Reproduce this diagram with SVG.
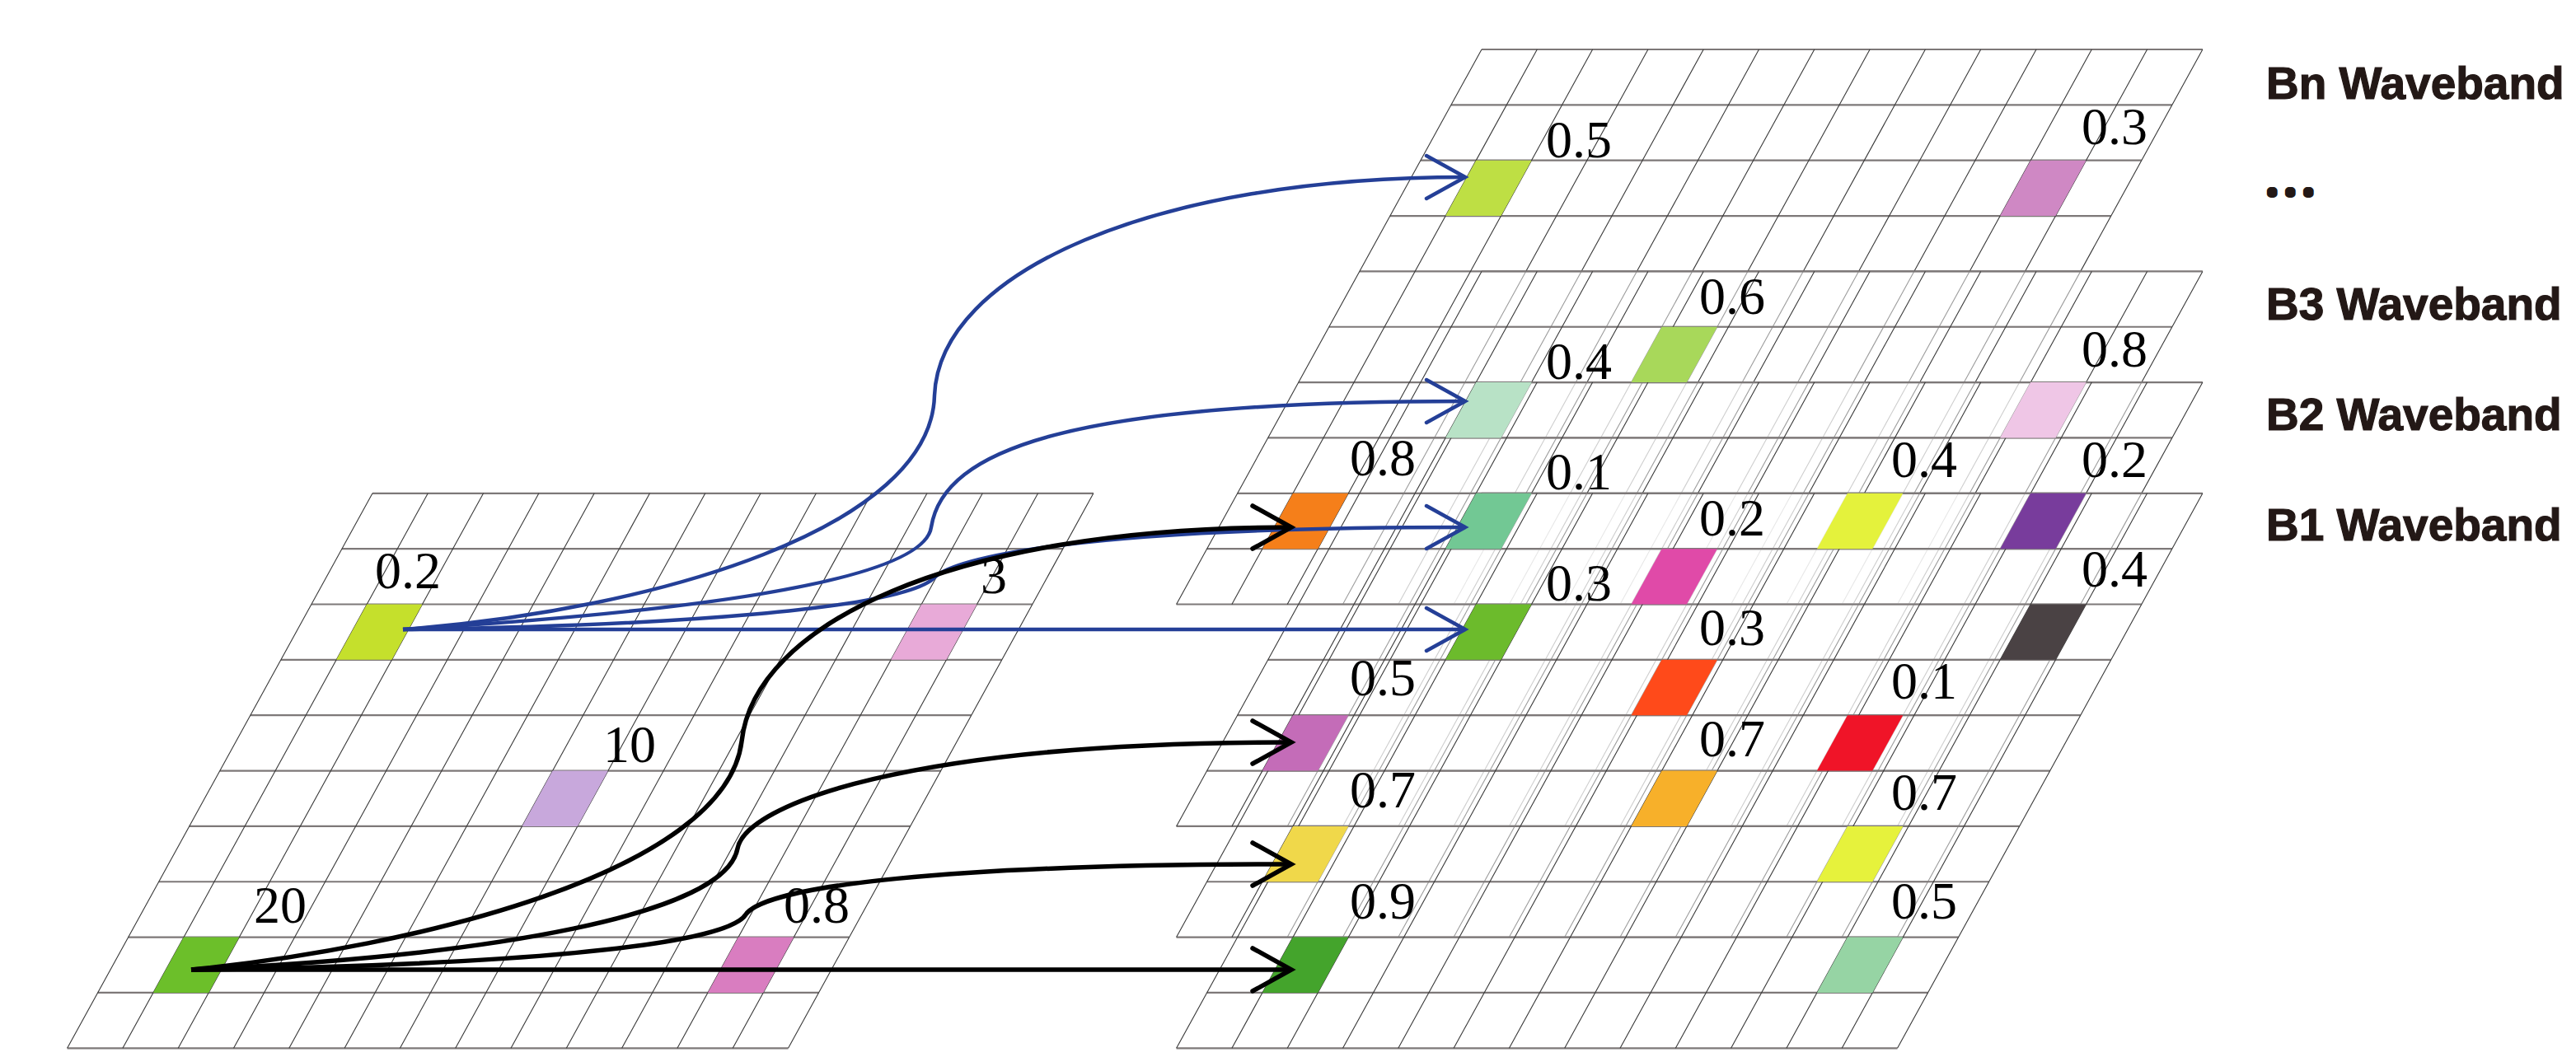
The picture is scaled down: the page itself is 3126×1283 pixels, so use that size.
<svg xmlns="http://www.w3.org/2000/svg" xmlns:xlink="http://www.w3.org/1999/xlink" width="3126" height="1283" viewBox="0 0 3126 1283">
<style>
.gh{fill:none;stroke:#7d7878;stroke-width:2.2}
.gv{fill:none;stroke:#3a3a3a;stroke-width:1.1}
.gf{fill:#fff;fill-opacity:0.5;stroke:none}
.lbl{font-family:"Liberation Serif","Times New Roman",serif;font-size:64px;fill:#000}
.band{font-family:"Liberation Sans",Arial,sans-serif;font-weight:700;font-size:55px;fill:#231816;stroke:#231816;stroke-width:1.2}
.dots{font-family:"Liberation Sans",Arial,sans-serif;font-weight:700;font-size:20px;letter-spacing:16.4px;fill:#231816;stroke:#231816;stroke-width:10;stroke-linejoin:round}
.blue{fill:none;stroke:#243f97;stroke-width:4.5;stroke-linecap:butt}
.black{fill:none;stroke:#000;stroke-width:5.5;stroke-linecap:butt}
</style>
<defs>
<path id="gh" d="M0,0h874.9M-37.04,67.35h874.9M-74.08,134.7h874.9M-111.12,202.05h874.9M-148.16,269.4h874.9M-185.2,336.75h874.9M-222.24,404.1h874.9M-259.28,471.45h874.9M-296.32,538.8h874.9M-333.36,606.15h874.9M-370.4,673.5h874.9"/>
<path id="gv" d="M0,0l-370.4,673.5M67.3,0l-370.4,673.5M134.6,0l-370.4,673.5M201.9,0l-370.4,673.5M269.2,0l-370.4,673.5M336.5,0l-370.4,673.5M403.8,0l-370.4,673.5M471.1,0l-370.4,673.5M538.4,0l-370.4,673.5M605.7,0l-370.4,673.5M673,0l-370.4,673.5M740.3,0l-370.4,673.5M807.6,0l-370.4,673.5M874.9,0l-370.4,673.5"/>
<path id="gf" d="M0,0L874.9,0L504.5,673.5L-370.4,673.5Z"/>
<path id="cell" d="M0,0L67.3,0L30.26,67.35L-37.04,67.35Z"/>
<marker id="ahBlue" markerUnits="userSpaceOnUse" markerWidth="60" markerHeight="60" refX="50" refY="30" orient="auto" overflow="visible">
<path d="M3,4L50,30L3,56" fill="none" stroke="#243f97" stroke-width="4.5" stroke-linecap="round"/>
</marker>
<marker id="ahBlack" markerUnits="userSpaceOnUse" markerWidth="60" markerHeight="60" refX="50" refY="30" orient="auto" overflow="visible">
<path d="M3,4L50,30L3,56" fill="none" stroke="#000" stroke-width="5.5" stroke-linecap="round"/>
</marker>
</defs>
<rect width="3126" height="1283" fill="#fff"/>

<g id="source-grid">
<use href="#gf" class="gf" x="452" y="598.8"/>
<use href="#gh" class="gh" x="452" y="598.8"/>
<use href="#gv" class="gv" x="452" y="598.8"/>
</g>

<g id="band-Bn-grid">
<use href="#gf" class="gf" x="1798" y="60"/>
<use href="#gh" class="gh" x="1798" y="60"/>
<use href="#gv" class="gv" x="1798" y="60"/>
</g>
<g id="band-B3-grid">
<use href="#gf" class="gf" x="1798" y="329.4"/>
<use href="#gh" class="gh" x="1798" y="329.4"/>
<use href="#gv" class="gv" x="1798" y="329.4"/>
</g>
<g id="band-B2-grid">
<use href="#gf" class="gf" x="1798" y="464.1"/>
<use href="#gh" class="gh" x="1798" y="464.1"/>
<use href="#gv" class="gv" x="1798" y="464.1"/>
</g>
<g id="band-B1-grid">
<use href="#gf" class="gf" x="1798" y="598.8"/>
<use href="#gh" class="gh" x="1798" y="598.8"/>
<use href="#gv" class="gv" x="1798" y="598.8"/>
</g>

<g id="source-pixels">
<use href="#cell" x="445.22" y="733.5" fill="#c5e02c"/>
<use href="#cell" x="1118.22" y="733.5" fill="#e8aad8"/>
<use href="#cell" x="670.6" y="935.55" fill="#c8a8dc"/>
<use href="#cell" x="222.98" y="1137.6" fill="#6cbf2a"/>
<use href="#cell" x="895.98" y="1137.6" fill="#d97dc0"/>
<text class="lbl" x="455" y="714">0.2</text>
<text class="lbl" x="1190" y="720">3</text>
<text class="lbl" x="732" y="925">10</text>
<text class="lbl" x="308" y="1120">20</text>
<text class="lbl" x="951" y="1120">0.8</text>
</g>

<g id="band-Bn-pixels">
<use href="#cell" x="1791.22" y="194.7" fill="#bedf44"/>
<use href="#cell" x="2464.22" y="194.7" fill="#cf88c4"/>
<use href="#cell" x="2016.6" y="396.75" fill="#a8d85a"/>
<use href="#cell" x="1568.98" y="598.8" fill="#f57f1a"/>
<use href="#cell" x="2241.98" y="598.8" fill="#e4f23c"/>
<text class="lbl" x="1876" y="191">0.5</text>
<text class="lbl" x="2526" y="175">0.3</text>
<text class="lbl" x="2062" y="381">0.6</text>
<text class="lbl" x="1638" y="577">0.8</text>
<text class="lbl" x="2295" y="579">0.4</text>
</g>
<g id="band-B3-pixels">
<use href="#cell" x="1791.22" y="464.1" fill="#b8e2c6"/>
<use href="#cell" x="2464.22" y="464.1" fill="#efc6e6"/>
<use href="#cell" x="2016.6" y="666.15" fill="#e04aa8"/>
<use href="#cell" x="1568.98" y="868.2" fill="#c46cb8"/>
<use href="#cell" x="2241.98" y="868.2" fill="#f01428"/>
<text class="lbl" x="1876" y="460">0.4</text>
<text class="lbl" x="2526" y="445">0.8</text>
<text class="lbl" x="2062" y="650">0.2</text>
<text class="lbl" x="1638" y="844">0.5</text>
<text class="lbl" x="2295" y="848">0.1</text>
</g>
<g id="band-B2-pixels">
<use href="#cell" x="1791.22" y="598.8" fill="#72c894"/>
<use href="#cell" x="2464.22" y="598.8" fill="#783c9c"/>
<use href="#cell" x="2016.6" y="800.85" fill="#ff4a1a"/>
<use href="#cell" x="1568.98" y="1002.9" fill="#f0d84a"/>
<use href="#cell" x="2241.98" y="1002.9" fill="#e6f23c"/>
<text class="lbl" x="1876" y="594">0.1</text>
<text class="lbl" x="2526" y="579">0.2</text>
<text class="lbl" x="2062" y="783">0.3</text>
<text class="lbl" x="1638" y="980">0.7</text>
<text class="lbl" x="2295" y="983">0.7</text>
</g>
<g id="band-B1-pixels">
<use href="#cell" x="1791.22" y="733.5" fill="#6cbb2c"/>
<use href="#cell" x="2464.22" y="733.5" fill="#4a4244"/>
<use href="#cell" x="2016.6" y="935.55" fill="#f7b02a"/>
<use href="#cell" x="1568.98" y="1137.6" fill="#44a42c"/>
<use href="#cell" x="2241.98" y="1137.6" fill="#96d4a4"/>
<text class="lbl" x="1876" y="729">0.3</text>
<text class="lbl" x="2526" y="712">0.4</text>
<text class="lbl" x="2062" y="918">0.7</text>
<text class="lbl" x="1638" y="1115">0.9</text>
<text class="lbl" x="2295" y="1115">0.5</text>
</g>

<g id="connectors">
<path class="blue" marker-end="url(#ahBlue)" d="M489,764C800,740 1130,640 1134,480C1140,330 1400,215 1778,215"/>
<path class="blue" marker-end="url(#ahBlue)" d="M489,764C800,745 1120,710 1130,640C1145,545 1300,487 1778,487"/>
<path class="blue" marker-end="url(#ahBlue)" d="M489,764C800,760 1100,740 1135,700C1160,678 1300,640 1778,640"/>
<path class="blue" marker-end="url(#ahBlue)" d="M489,764L1778,764"/>
<path class="black" marker-end="url(#ahBlack)" d="M232,1177C500,1150 880,1060 900,900C915,760 1150,640 1567,640"/>
<path class="black" marker-end="url(#ahBlack)" d="M232,1177C600,1160 880,1110 895,1030C905,977 1100,901 1567,901"/>
<path class="black" marker-end="url(#ahBlack)" d="M232,1177C600,1172 880,1150 905,1110C930,1075 1150,1049 1567,1049"/>
<path class="black" marker-end="url(#ahBlack)" d="M232,1177L1567,1177"/>
</g>

<g id="band-labels">
<text class="band" x="2750" y="120">Bn Waveband</text>
<text class="dots" x="2754.5" y="235.4">...</text>
<text class="band" x="2750" y="388">B3 Waveband</text>
<text class="band" x="2750" y="522">B2 Waveband</text>
<text class="band" x="2750" y="656">B1 Waveband</text>
</g>
</svg>
